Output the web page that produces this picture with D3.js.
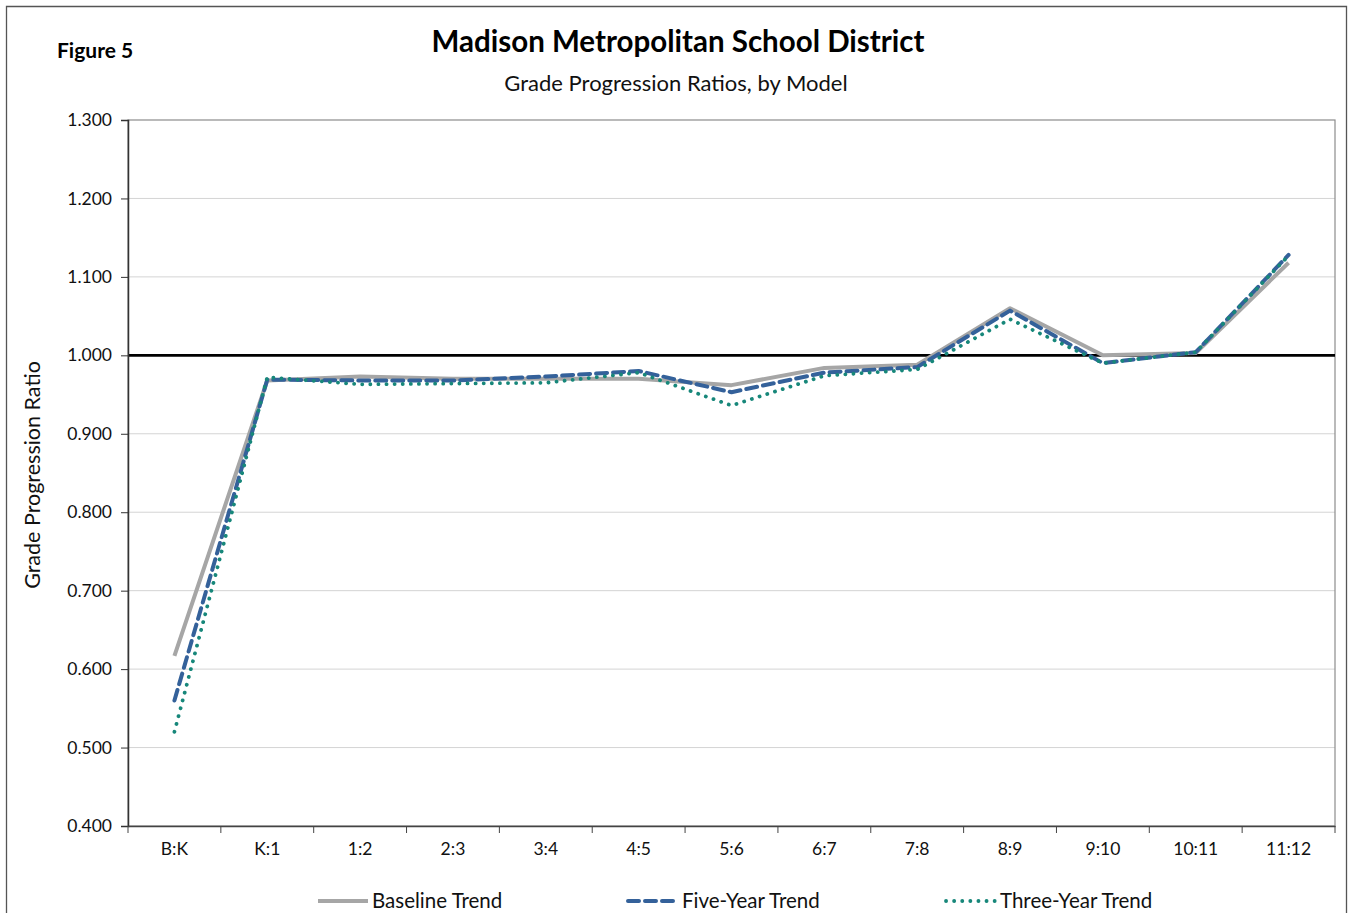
<!DOCTYPE html>
<html>
<head>
<meta charset="utf-8">
<script src="https://cdn.jsdelivr.net/npm/d3@7"></script>
<style>
  html, body { margin: 0; padding: 0; background: #fff; }
  svg { display: block; font-family: "Lato", "Open Sans", sans-serif; }
</style>
</head>
<body>
<svg id="chart" width="1351" height="913"></svg>
<script>
const categories = ["B:K","K:1","1:2","2:3","3:4","4:5","5:6","6:7","7:8","8:9","9:10","10:11","11:12"];
const baseline  = [0.617,0.968,0.973,0.970,0.970,0.970,0.962,0.984,0.988,1.060,1.000,1.003,1.118];
const fiveYear  = [0.560,0.969,0.968,0.968,0.973,0.980,0.953,0.978,0.985,1.057,0.990,1.004,1.128];
const threeYear = [0.520,0.972,0.963,0.964,0.965,0.978,0.936,0.974,0.982,1.046,0.990,1.004,1.127];
const yTicks = [0.4,0.5,0.6,0.7,0.8,0.9,1.0,1.1,1.2,1.3];
const seriesNames = ["Baseline Trend","Five-Year Trend","Three-Year Trend"];

const svg = d3.select("#chart");
const pL = 128, pR = 1335, pT = 120, pB = 826;

// outer frame
svg.append("path").attr("d","M6.5,913 V6.5 H1346.5 V913").attr("fill","none").attr("stroke","#555").attr("stroke-width",1.3);

const x = d3.scaleBand().domain(categories).range([pL,pR]);
const y = d3.scaleLinear().domain([0.4,1.3]).range([pB,pT]);

// gridlines
svg.append("g").selectAll("line").data(yTicks.filter(t => t>0.4 && t<1.3 && Math.abs(t-1)>1e-9)).join("line")
  .attr("x1",pL).attr("x2",pR).attr("y1",d=>y(d)).attr("y2",d=>y(d))
  .attr("stroke","#d4d4d4").attr("stroke-width",1);

// plot frame
svg.append("rect").attr("x",pL).attr("y",pT).attr("width",pR-pL).attr("height",pB-pT)
  .attr("fill","none").attr("stroke","#8c8c8c").attr("stroke-width",1.2);

// reference line at 1.000
svg.append("line").attr("x1",pL).attr("x2",pR).attr("y1",y(1)).attr("y2",y(1))
  .attr("stroke","#000").attr("stroke-width",2.6);

// y axis
const yAxis = d3.axisLeft(y).tickValues(yTicks).tickFormat(d3.format(".3f")).tickSize(7).tickPadding(9);
const gy = svg.append("g").attr("transform",`translate(${pL},0)`).call(yAxis);
gy.select(".domain").attr("stroke","#333").attr("stroke-width",1.5);
gy.selectAll(".tick line").attr("stroke","#333");
gy.selectAll("text").attr("font-size",17.5).attr("fill","#111").attr("font-family","Lato, sans-serif");

// x axis
const xAxis = d3.axisBottom(x).tickSize(0).tickPadding(17);
const gx = svg.append("g").attr("transform",`translate(0,${pB})`).call(xAxis);
gx.select(".domain").attr("stroke","#444").attr("stroke-width",1.5);
gx.selectAll("text").attr("font-size",17.5).attr("fill","#111").attr("font-family","Lato, sans-serif");
// category boundary ticks
const bounds = categories.map(c => x(c)).concat([pR]);
svg.append("g").selectAll("line").data(bounds).join("line")
  .attr("x1",d=>d).attr("x2",d=>d).attr("y1",pB).attr("y2",pB+7)
  .attr("stroke","#444").attr("stroke-width",1);

// series
const cx = c => x(c) + x.bandwidth()/2;
const line = d3.line().x(d=>cx(d.c)).y(d=>y(d.v));
const mk = arr => categories.map((c,i)=>({c, v: arr[i]}));
const styles = [
  {data: baseline,  color:"#a6a6a6", width:4,   dash:null,  cap:"butt"},
  {data: fiveYear,  color:"#34619a", width:4,   dash:"11,6", cap:"round"},
  {data: threeYear, color:"#17877a", width:3.8, dash:"0.1,8", cap:"round"}
];
styles.forEach(s => {
  svg.append("path").datum(mk(s.data)).attr("d",line)
    .attr("fill","none").attr("stroke",s.color).attr("stroke-width",s.width)
    .attr("stroke-dasharray",s.dash).attr("stroke-linecap",s.cap).attr("stroke-linejoin","round");
});

// titles
svg.append("text").attr("x",57).attr("y",58).text("Figure 5")
  .attr("font-size",21).attr("font-weight","bold").attr("fill","#000");
svg.append("text").attr("x",678).attr("y",52).attr("text-anchor","middle").text("Madison Metropolitan School District")
  .attr("font-size",29.5).attr("font-weight","bold").attr("fill","#000");
svg.append("text").attr("x",676).attr("y",91).attr("text-anchor","middle").text("Grade Progression Ratios, by Model")
  .attr("font-size",22).attr("fill","#111");
svg.append("text").attr("transform","translate(40,475) rotate(-90)").attr("text-anchor","middle")
  .text("Grade Progression Ratio").attr("font-size",21.5).attr("fill","#111");

// legend
const legX = [316, 626, 944];
const lg = svg.append("g");
styles.forEach((s,i) => {
  lg.append("line").attr("x1",legX[i]+2).attr("x2",legX[i]+52).attr("y1",901).attr("y2",901)
    .attr("stroke",s.color).attr("stroke-width",s.width).attr("stroke-dasharray",s.dash).attr("stroke-linecap",s.cap);
  lg.append("text").attr("x",legX[i]+56).attr("y",908).text(seriesNames[i]).attr("font-size",20.5).attr("fill","#111");
});
</script>
</body>
</html>
